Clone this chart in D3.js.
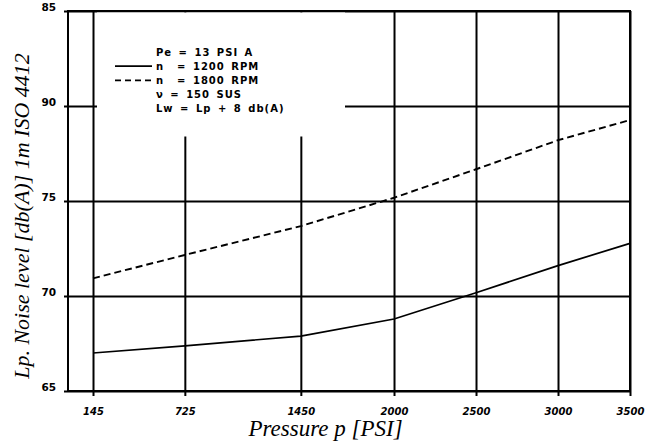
<!DOCTYPE html>
<html>
<head>
<meta charset="utf-8">
<script src="https://cdn.jsdelivr.net/npm/d3@7/dist/d3.min.js"></script>
<style>
  html, body { margin: 0; padding: 0; background: #fff; }
  svg { display: block; }
</style>
</head>
<body>
<svg id="chart" width="656" height="446"></svg>
<script>
// ---- data ----
const pressures = [145, 725, 1450, 2000, 2500, 3000, 3500];
const xTickLabels = ["145", "725", "1450", "2000", "2500", "3000", "3500"];
const yTicks = [65, 70, 75, 80, 85];
const yTickLabels = ["65", "70", "75", "90", "85"];
const rpm1200 = [67.0, 67.38, 67.89, 68.79, 70.17, 71.6, 72.77];
const rpm1800 = [70.93, 72.16, 73.68, 75.17, 76.67, 78.2, 79.26];
const legendLines = ["Pe = 13 PSI A", "n  = 1200 RPM", "n  = 1800 RPM", "\u03BD = 150 SUS", "Lw = Lp + 8 db(A)"];
const xTitle = "Pressure p [PSI]";
const yTitle = "Lp. Noise level [db(A)] 1m ISO 4412";

// ---- layout ----
const svg = d3.select("#chart");
const plot = { left: 68, right: 630, top: 11, bottom: 391 };
const W = plot.right - plot.left;
// uneven spacing of the pressure grid, as fractions of the plot width
const xFrac = [0.0445, 0.2079, 0.4143, 0.5801, 0.726, 0.8719, 1.0];

const x = d3.scaleLinear()
  .domain(pressures)
  .range(xFrac.map(f => plot.left + f * W));
const y = d3.scaleLinear().domain([65, 85]).range([plot.bottom, plot.top]);

const gridW = 2;

// horizontal grid + y labels
const yAxis = d3.axisLeft(y)
  .tickValues(yTicks)
  .tickFormat((d, i) => yTickLabels[i])
  .tickSize(-W)
  .tickSizeOuter(0)
  .tickPadding(12);
const gy = svg.append("g").attr("transform", `translate(${plot.left},0)`).call(yAxis);
gy.select(".domain").remove();
gy.selectAll(".tick line")
  .attr("x1", -4)
  .attr("stroke", "#000").attr("stroke-width", gridW);
gy.selectAll(".tick text")
  .attr("y", -4)
  .attr("fill", "#000")
  .style("font-family", "'DejaVu Sans', sans-serif")
  .style("font-weight", "bold")
  .style("font-size", "10.5px");

// vertical grid + x labels
const xAxis = d3.axisBottom(x)
  .tickValues(pressures)
  .tickFormat((d, i) => xTickLabels[i])
  .tickSize(-(plot.bottom - plot.top))
  .tickSizeOuter(0)
  .tickPadding(17);
const gx = svg.append("g").attr("transform", `translate(0,${plot.bottom})`).call(xAxis);
gx.select(".domain").remove();
gx.selectAll(".tick line")
  .attr("y1", 5)
  .attr("stroke", "#000").attr("stroke-width", gridW);
gx.selectAll(".tick text")
  .attr("fill", "#000")
  .style("font-family", "'DejaVu Sans', sans-serif")
  .style("font-style", "oblique")
  .style("font-weight", "bold")
  .style("font-size", "10px");

// frame
svg.append("rect")
  .attr("x", plot.left).attr("y", plot.top)
  .attr("width", W).attr("height", plot.bottom - plot.top)
  .attr("fill", "none").attr("stroke", "#000").attr("stroke-width", gridW);

// data lines
const line = d3.line()
  .x((d, i) => x(pressures[i]))
  .y(d => y(d));
svg.append("path").datum(rpm1200)
  .attr("d", line).attr("fill", "none")
  .attr("stroke", "#000").attr("stroke-width", 1.7);
svg.append("path").datum(rpm1800)
  .attr("d", line).attr("fill", "none")
  .attr("stroke", "#000").attr("stroke-width", 1.9)
  .attr("stroke-dasharray", "7,4");

// legend box (white, hides grid)
const lg = { x: 97, y: 12.5, w: 248, h: 124 };
svg.append("rect")
  .attr("x", lg.x).attr("y", lg.y).attr("width", lg.w).attr("height", lg.h)
  .attr("fill", "#fff");

const rowY0 = 52, rowStep = 14.2, textX = 156;
svg.append("line")
  .attr("x1", 115).attr("x2", 152)
  .attr("y1", rowY0 + rowStep).attr("y2", rowY0 + rowStep)
  .attr("stroke", "#000").attr("stroke-width", 1.7);
svg.append("line")
  .attr("x1", 115).attr("x2", 152)
  .attr("y1", rowY0 + 2 * rowStep).attr("y2", rowY0 + 2 * rowStep)
  .attr("stroke", "#000").attr("stroke-width", 1.9)
  .attr("stroke-dasharray", "6,4");

svg.append("g").selectAll("text").data(legendLines).join("text")
  .attr("x", textX)
  .attr("y", (d, i) => rowY0 + i * rowStep)
  .attr("dy", "0.35em")
  .attr("fill", "#000")
  .style("white-space", "pre")
  .attr("xml:space", "preserve")
  .style("font-family", "'DejaVu Sans', sans-serif")
  .style("font-weight", "bold")
  .style("font-size", "10px")
  .style("letter-spacing", "1px")
  .style("word-spacing", "2px")
  .text(d => d);

// axis titles
svg.append("text")
  .attr("x", 325.5).attr("y", 436)
  .attr("text-anchor", "middle")
  .attr("fill", "#000")
  .style("font-family", "'Liberation Serif', 'Times New Roman', serif")
  .style("font-style", "italic")
  .style("font-size", "23px")
  .text(xTitle);

svg.append("text")
  .attr("transform", "translate(29,216) rotate(-90)")
  .attr("text-anchor", "middle")
  .attr("fill", "#000")
  .style("font-family", "'Liberation Serif', 'Times New Roman', serif")
  .style("font-style", "italic")
  .style("font-size", "22px")
  .text(yTitle);
</script>
</body>
</html>
